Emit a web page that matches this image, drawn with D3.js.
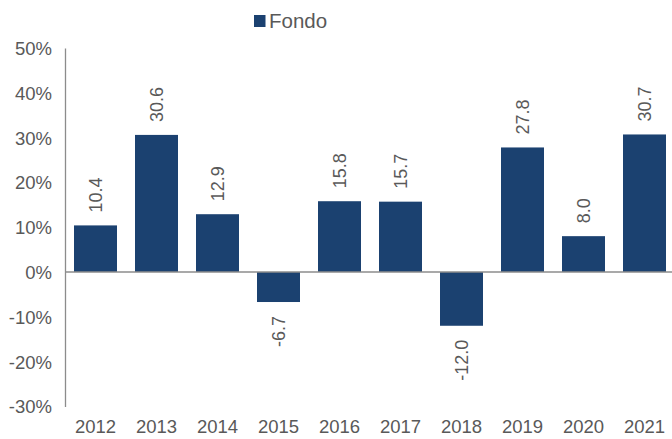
<!DOCTYPE html>
<html><head><meta charset="utf-8">
<script src="https://cdn.jsdelivr.net/npm/d3@7"></script>
<style>
html,body{margin:0;padding:0;background:#fff;}
svg{display:block;}
text{font-family:"Liberation Sans",Arial,sans-serif;fill:#595959;}
</style></head>
<body>
<svg id="chart" width="672" height="439"></svg>
<script>
const years = ["2012","2013","2014","2015","2016","2017","2018","2019","2020","2021"];
const fondo = [10.4, 30.6, 12.9, -6.7, 15.8, 15.7, -12.0, 27.8, 8.0, 30.7];
const yTicks = [-30, -20, -10, 0, 10, 20, 30, 40, 50];
const seriesName = "Fondo";

const svg = d3.select("#chart");
const mLeft = 65, mRight = 675, mTop = 48, mBottom = 406.4;
const barColor = "#1b4170";

const x = d3.scaleBand().domain(years).range([mLeft, mRight]).paddingInner(18 / 61).paddingOuter(9 / 61);
const y = d3.scaleLinear().domain([-30, 50]).range([mBottom, mTop]);

// y axis
const yAxis = d3.axisLeft(y).tickValues(yTicks).tickSize(0).tickPadding(13).tickFormat(d => d + "%");
const gy = svg.append("g").attr("transform", `translate(${mLeft},0)`).call(yAxis);
gy.select(".domain").attr("stroke", "#8c8c8c").attr("stroke-width", 1.3);
gy.selectAll("text").style("font-size", "18.5px").style("font-family", "'Liberation Sans',Arial,sans-serif").attr("fill", "#595959").attr("dy", "0.35em");

// bars
svg.append("g").selectAll("rect").data(fondo).join("rect")
  .attr("x", (d, i) => x(years[i]))
  .attr("width", x.bandwidth())
  .attr("y", d => y(Math.max(0, d)))
  .attr("height", d => Math.abs(y(d) - y(0)))
  .attr("fill", barColor);

// zero line
svg.append("line").attr("x1", mLeft).attr("x2", 672).attr("y1", y(0)).attr("y2", y(0))
  .attr("stroke", "#8c8c8c").attr("stroke-width", 1.3);

// x axis labels
const xAxis = d3.axisBottom(x).tickSize(0).tickPadding(0);
const gx = svg.append("g").attr("transform", `translate(0,${mBottom})`).call(xAxis);
gx.select(".domain").remove();
gx.selectAll("text").style("font-size", "18.5px").style("font-family", "'Liberation Sans',Arial,sans-serif").attr("fill", "#595959").attr("y", 27).attr("dy", 0);

// data labels
svg.append("g").selectAll("text").data(fondo).join("text")
  .attr("transform", (d, i) => {
    const cx = x(years[i]) + x.bandwidth() / 2;
    const yy = d >= 0 ? y(d) - 13 : y(d) + 14;
    return `translate(${cx + 6.5},${yy}) rotate(-90)`;
  })
  .attr("text-anchor", d => d >= 0 ? "start" : "end")
  .style("font-size", "18px")
  .attr("fill", "#595959")
  .text(d => d.toFixed(1));

// legend
const lg = svg.append("g");
lg.append("rect").attr("x", 254).attr("y", 15).attr("width", 11.5).attr("height", 12).attr("fill", barColor);
lg.append("text").attr("x", 269).attr("y", 27.5).style("font-size", "20.5px").attr("fill", "#595959").text(seriesName);
</script>
</body></html>
